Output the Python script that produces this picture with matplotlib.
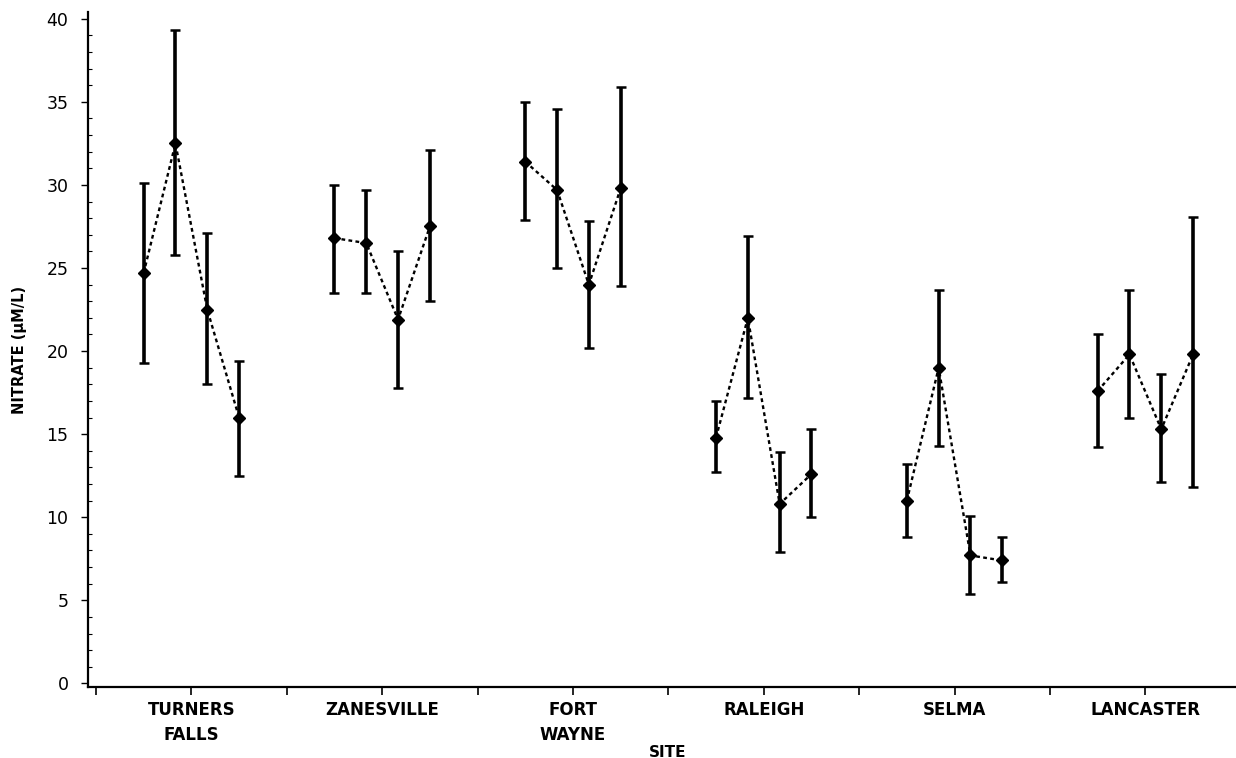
import os

os.environ.setdefault("MPLBACKEND", "Agg")

import matplotlib.pyplot as plt
import numpy as np
from matplotlib.ticker import MultipleLocator

SITES = ["TURNERS\nFALLS", "ZANESVILLE", "FORT\nWAYNE", "RALEIGH", "SELMA", "LANCASTER"]

# four sampling dates per site: mean, lower and upper end of the bar
TURNERS = [24.7, 32.5, 22.5, 16.0]
TURNERS_LO = [19.3, 25.8, 18.0, 12.5]
TURNERS_HI = [30.1, 39.3, 27.1, 19.4]

ZANESVILLE = [26.8, 26.5, 21.9, 27.5]
ZANESVILLE_LO = [23.5, 23.5, 17.8, 23.0]
ZANESVILLE_HI = [30.0, 29.7, 26.0, 32.1]

FORT_WAYNE = [31.4, 29.7, 24.0, 29.8]
FORT_WAYNE_LO = [27.9, 25.0, 20.2, 23.9]
FORT_WAYNE_HI = [35.0, 34.6, 27.8, 35.9]

RALEIGH = [14.8, 22.0, 10.8, 12.6]
RALEIGH_LO = [12.7, 17.2, 7.9, 10.0]
RALEIGH_HI = [17.0, 26.9, 13.9, 15.3]

SELMA = [11.0, 19.0, 7.7, 7.4]
SELMA_LO = [8.8, 14.3, 5.4, 6.1]
SELMA_HI = [13.2, 23.7, 10.1, 8.8]

LANCASTER = [17.6, 19.8, 15.3, 19.8]
LANCASTER_LO = [14.2, 16.0, 12.1, 11.8]
LANCASTER_HI = [21.0, 23.7, 18.6, 28.1]

GROUPS = [
    (TURNERS, TURNERS_LO, TURNERS_HI),
    (ZANESVILLE, ZANESVILLE_LO, ZANESVILLE_HI),
    (FORT_WAYNE, FORT_WAYNE_LO, FORT_WAYNE_HI),
    (RALEIGH, RALEIGH_LO, RALEIGH_HI),
    (SELMA, SELMA_LO, SELMA_HI),
    (LANCASTER, LANCASTER_LO, LANCASTER_HI),
]

GROUP_STEP = 6  # x units between site groups (4 points + gap)

fig = plt.figure(figsize=(12.36, 7.58), dpi=100)
ax = fig.add_axes([0.0712, 0.094, 0.9288, 0.89])

for g, (mean, lo, hi) in enumerate(GROUPS):
    mean = np.array(mean)
    x = g * GROUP_STEP + np.arange(len(mean))
    ax.plot(x, mean, linestyle=(0, (1.6, 1.4)), color="black", lw=1.7, zorder=2)
    ax.errorbar(
        x, mean,
        yerr=[mean - np.array(lo), np.array(hi) - mean],
        fmt="D", markersize=6, color="black", ecolor="black",
        elinewidth=2.6, capsize=3.5, capthick=1.8, zorder=3,
    )

centers = np.arange(len(SITES)) * GROUP_STEP + 1.5
ax.set_xticks(centers)
ax.set_xticklabels(SITES, fontsize=12, fontweight="bold", linespacing=1.55)
ax.set_xticks(centers - GROUP_STEP / 2, minor=True)
ax.set_xlim(-1.75, 34.35)

ax.set_ylim(-0.2, 40.4)
ax.yaxis.set_major_locator(MultipleLocator(5))
ax.yaxis.set_minor_locator(MultipleLocator(1))
ax.tick_params(axis="y", which="major", direction="out", length=5, width=1,
               labelsize=12.5, pad=9)
ax.tick_params(axis="y", which="minor", direction="in", length=3, width=0.8)
ax.tick_params(axis="x", which="both", direction="out", length=6, width=1.2,
               pad=4)

for side in ("top", "right"):
    ax.spines[side].set_visible(False)
ax.spines["left"].set_linewidth(1.6)
ax.spines["bottom"].set_linewidth(1.6)

ax.set_ylabel("NITRATE (\u03bcM/L)", fontsize=10.5, fontweight="bold", labelpad=14)
ax.set_xlabel("SITE", fontsize=11, fontweight="bold")
ax.xaxis.set_label_coords(0.505, -0.086)

fig.savefig("out.png", dpi=100)
